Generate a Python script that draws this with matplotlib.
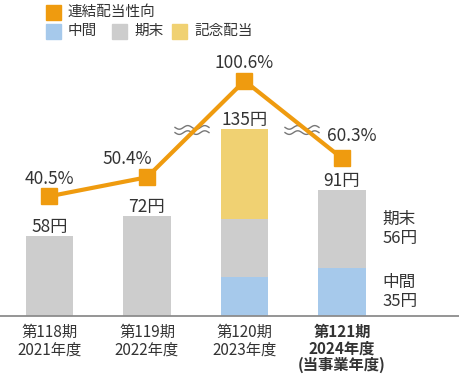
import numpy as np
import matplotlib
matplotlib.use("Agg")
import matplotlib.pyplot as plt
from matplotlib.patches import Rectangle
from matplotlib.lines import Line2D

plt.rcParams['font.family'] = ['Noto Sans CJK JP', 'DejaVu Sans']

# ---- data ----
periods = ["第118期\n2021年度", "第119期\n2022年度", "第120期\n2023年度", "第121期\n2024年度\n(当事業年度)"]
interim = [0, 0, 28, 35]          # 中間
year_end = [58, 72, 42, 56]       # 期末
commemorative = [0, 0, 65, 0]     # 記念配当
payout_ratio = [40.5, 50.4, 100.6, 60.3]  # 連結配当性向 (%)

C_ORANGE = "#EF9B0F"
C_BLUE = "#A6C9EB"
C_GRAY = "#CDCDCD"
C_YELLOW = "#F0D172"
C_TEXT = "#333333"

W, H = 460, 376
fig = plt.figure(figsize=(W / 100, H / 100), dpi=100)
base_px, top_px = 316, 40
ax = fig.add_axes([0, (H - base_px) / H, 1, (base_px - top_px) / H])
x = np.arange(len(periods))
ax.set_xlim(-49.5 / 97.5, (W - 49.5) / 97.5)
ax.set_ylim(0, (base_px - top_px) / 1.385)

interim_a = np.array(interim)
year_a = np.array(year_end)
comm_a = np.array(commemorative)
totals = interim_a + year_a + comm_a
bw = 0.485
ax.bar(x, interim_a, bw, color=C_BLUE, zorder=2)
ax.bar(x, year_a, bw, bottom=interim_a, color=C_GRAY, zorder=2)
ax.bar(x, comm_a, bw, bottom=interim_a + year_a, color=C_YELLOW, zorder=2)

for i, t in enumerate(totals):
    ax.annotate(f"{t}円", (x[i], t), xytext=(0, 3), textcoords="offset points",
                ha="center", va="baseline", fontsize=12.5, color=C_TEXT, zorder=5)

# right side annotations for the latest year
last = len(periods) - 1
ax.annotate(f"期末\n{year_end[last]}円", (x[last] + bw / 2, interim[last] + year_end[last] / 2),
            xytext=(12, 0), textcoords="offset points", ha="left", va="center",
            fontsize=12, color=C_TEXT, linespacing=1.15)
ax.annotate(f"中間\n{interim[last]}円", (x[last] + bw / 2, interim[last] / 2),
            xytext=(12, 0), textcoords="offset points", ha="left", va="center",
            fontsize=12, color=C_TEXT, linespacing=1.15)

for s in ["top", "left", "right"]:
    ax.spines[s].set_visible(False)
ax.spines["bottom"].set_color("#8C8C8C")
ax.spines["bottom"].set_linewidth(1.3)
ax.set_yticks([])
ax.set_xticks(x)
ax.set_xticklabels(periods, fontsize=11, color=C_TEXT, linespacing=1.02, va="top")
ax.tick_params(axis="x", length=0, pad=6)
ax.get_xticklabels()[-1].set_fontweight("bold")

# ---- payout ratio line ----
ax2 = ax.twinx()
ax2.set_ylim((274 - base_px) / 1.92, (274 - top_px) / 1.92)
ax2.axis("off")
ax2.plot(x, payout_ratio, color=C_ORANGE, lw=3, marker="s", markersize=11,
         markerfacecolor=C_ORANGE, markeredgecolor=C_ORANGE, zorder=3)
offsets = [(0, 12.5), (-14, 13), (0, 13), (7, 16)]
for i, p in enumerate(payout_ratio):
    ax2.annotate(f"{p}%", (x[i], p), xytext=offsets[i], textcoords="offset points",
                 ha="center", va="center", fontsize=12.5, color=C_TEXT, zorder=5)

# ---- break (wave) marks ----
def wave(cx, cy, w=34):
    t = np.linspace(-w / 2, w / 2, 80)
    yy = 1.8 * np.sin(t / w * 2 * np.pi * 2)
    fx = (cx + t) / W
    ax.add_line(Line2D(fx, (H - (cy + yy)) / H, transform=fig.transFigure, color="white",
                       lw=5, solid_capstyle="butt", zorder=6, clip_on=False))
    for dy in (-2.6, 2.6):
        ax.add_line(Line2D(fx, (H - (cy + dy + yy)) / H, transform=fig.transFigure,
                           color="#777777", lw=1.0, zorder=7, clip_on=False))

wave(192, 130)
wave(302, 130)

# ---- legend ----
def legend_item(px, py, color, label):
    fig.patches.append(Rectangle((px / W, (H - py - 7.5) / H), 15 / W, 15 / H,
                                 transform=fig.transFigure, color=color, figure=fig))
    fig.text((px + 22) / W, (H - py) / H, label, ha="left", va="center",
             fontsize=10.5, color=C_TEXT)

legend_item(46, 12, C_ORANGE, "連結配当性向")
legend_item(46, 31, C_BLUE, "中間")
legend_item(112, 31, C_GRAY, "期末")
legend_item(172, 31, C_YELLOW, "記念配当")

fig.savefig("out.png", dpi=100)
